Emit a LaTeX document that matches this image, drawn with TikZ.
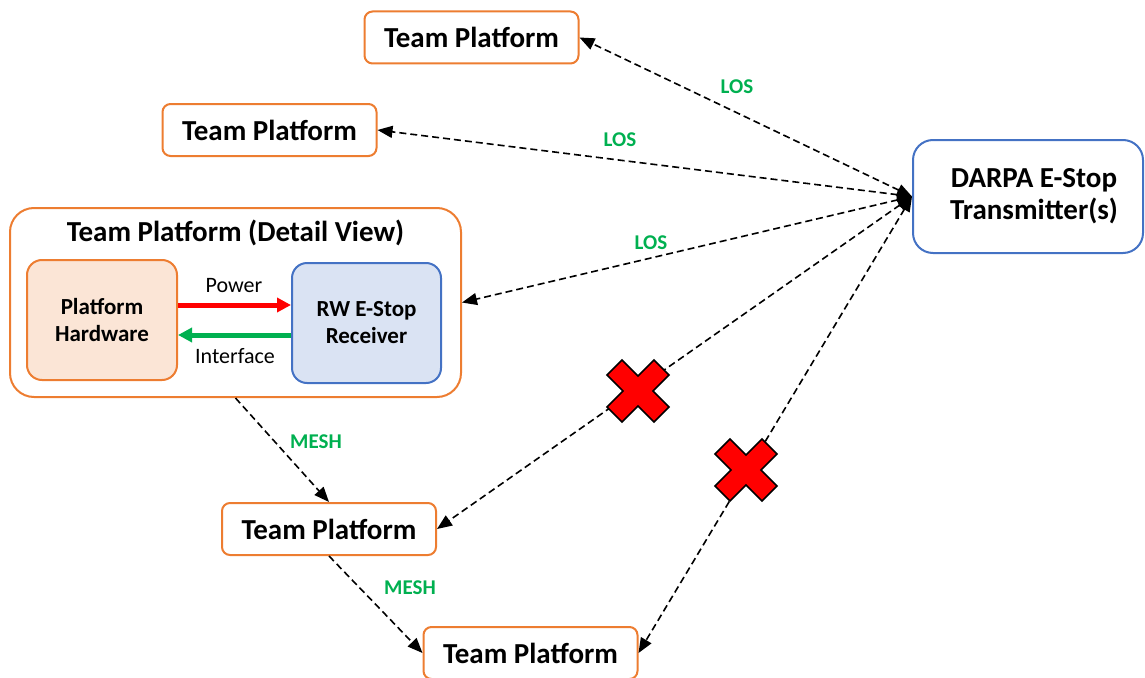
\documentclass[tikz,border=0pt]{standalone}
\usepackage{fontspec}
\setmainfont{Carlito}
\usetikzlibrary{calc,positioning,arrows.meta,shapes}
\definecolor{boxorange}{HTML}{ED7D31}
\definecolor{boxblue}{HTML}{4472C4}
\definecolor{fillblue}{HTML}{DAE3F3}
\definecolor{fillorange}{HTML}{FBE5D6}
\definecolor{losgreen}{HTML}{00B050}

\begin{document}
\begin{tikzpicture}[x=1pt, y=-1pt]
\tikzstyle{tp}=[draw=boxorange, line width=2pt, rounded corners=8pt, fill=white,
                        minimum width=214pt, minimum height=52pt, inner sep=0pt, font=\fontsize{29}{33}\selectfont\bfseries]
\tikzstyle{detailbox}=[draw=boxorange, line width=2pt, rounded corners=24pt,
                        minimum width=451pt, minimum height=189pt, inner sep=0pt]
\tikzstyle{hwbox}=[draw=boxorange, fill=fillorange, line width=2pt, rounded corners=15pt, align=center,
                        minimum width=150pt, minimum height=120pt, inner sep=0pt, font=\fontsize{23}{27}\selectfont\bfseries]
\tikzstyle{rxbox}=[hwbox, draw=boxblue, fill=fillblue, minimum width=149pt]
\tikzstyle{darpabox}=[draw=boxblue, line width=2pt, rounded corners=20pt, align=center,
                        minimum width=230pt, minimum height=113pt, inner sep=0pt, font=\fontsize{29}{32}\selectfont\bfseries]
\tikzstyle{lbl}=[inner sep=1pt, text=losgreen, font=\fontsize{21}{24}\selectfont\bfseries]
\tikzstyle{wire}=[inner sep=1pt, font=\fontsize{22}{24}\selectfont]
\tikzstyle{losline}=[line width=1.6pt, dash pattern=on 7pt off 4pt, {Triangle[length=15pt,width=12pt]}-{Triangle[length=15pt,width=12pt]}]
\tikzstyle{meshline}=[line width=1.6pt, dash pattern=on 7pt off 4pt, -{Triangle[length=15pt,width=12pt]}]
\tikzstyle{nogo}=[fill=red, draw=black, line width=1.6pt, line join=miter]
\useasboundingbox (0,0) rectangle (1145,677);
% nodes
\node[tp] (tpA) at (471.5,37.5) {Team Platform};
\node[tp] (tpB) at (269.5,130) {Team Platform};
\node[detailbox] (detail) at (235.5,302.5) {};
\node[font=\fontsize{29}{33}\selectfont\bfseries] (title) at (235.5,233) {Team Platform (Detail View)};
\node[hwbox] (hw) at (102,320) {Platform\\Hardware};
\node[rxbox] (rx) at (366.5,323) {RW E-Stop\\Receiver};
\node[darpabox] (darpa) at (1028,196.5) {\hspace*{12pt}DARPA E-Stop\\\hspace*{12pt}Transmitter(s)};
\node[tp] (tpC) at (329,529) {Team Platform};
\node[tp] (tpD) at (530.5,653) {Team Platform};
% power / interface
\coordinate (pw) at (0,305);
\coordinate (itf) at (0,335);
\draw[red, line width=5pt, -{Triangle[length=14pt,width=14pt]}] (hw.east |- pw) -- (rx.west |- pw);
\draw[losgreen, line width=5pt, -{Triangle[length=14pt,width=14pt]}] (rx.west |- itf) -- (hw.east |- itf);
\node[wire] (pwlbl) at (234,286) {Power};
\node[wire] (itflbl) at (235,356) {Interface};
% links
\foreach \t in {tpA,tpB,detail,tpC,tpD}{\draw[losline] (darpa.west) -- (\t.east);}
\draw[meshline] (detail.south) -- (tpC.north);
\draw[meshline] (tpC.south) -- (tpD.west);
\node[lbl] (los1) at (737,87) {LOS};
\node[lbl] (los2) at (620,140) {LOS};
\node[lbl] (los3) at (651,243) {LOS};
\node[lbl] (mesh1) at (316,442) {MESH};
\node[lbl] (mesh2) at (410,588) {MESH};
% blocked links
\foreach \cx/\cy in {638/391,746/470}{
  \draw[nogo, shift={(\cx,\cy)}] (0,-15) -- (16,-31) -- (31,-16) -- (15,0) -- (31,16) -- (16,31) -- (0,15)
     -- (-16,31) -- (-31,16) -- (-15,0) -- (-31,-16) -- (-16,-31) -- cycle;}
\end{tikzpicture}
\end{document}
